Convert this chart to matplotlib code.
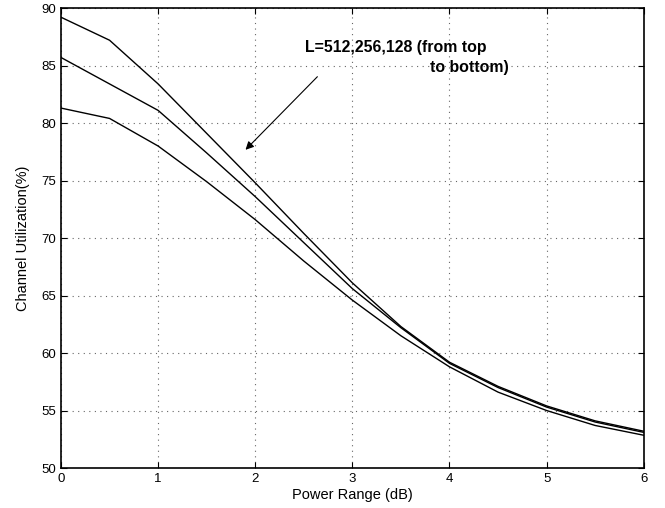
import matplotlib
matplotlib.use("Agg")
import matplotlib.pyplot as plt

plt.rcParams['font.family'] = ['Liberation Sans', 'DejaVu Sans']

# Power range (dB)
power = [0, 0.5, 1, 1.5, 2, 2.5, 3, 3.5, 4, 4.5, 5, 5.5, 6]

# Channel utilization (%) for L = 512, 256, 128
util_512 = [89.2, 87.2, 83.4, 79.1, 74.8, 70.4, 66.1, 62.3, 59.2, 57.1, 55.4, 54.1, 53.2]
util_256 = [85.7, 83.4, 81.1, 77.4, 73.6, 69.6, 65.6, 62.2, 59.1, 57.0, 55.3, 54.0, 53.1]
util_128 = [81.3, 80.4, 78.0, 74.9, 71.6, 68.0, 64.6, 61.5, 58.8, 56.6, 55.0, 53.7, 52.85]

fig = plt.figure(figsize=(6.65, 5.08), dpi=100)
ax = fig.add_axes([0.0917, 0.0787, 0.8763, 0.9055])

for series in (util_512, util_256, util_128):
    ax.plot(power, series, color='black', linewidth=1.0)

ax.set_xlim(0, 6)
ax.set_ylim(50, 90)
ax.set_xticks(range(0, 7))
ax.set_yticks(range(50, 91, 5))
ax.tick_params(direction='in', top=True, right=True, labelsize=9.5, length=4)
ax.grid(True, linestyle=(0, (1, 4)), color='#666666', linewidth=0.8)
for s in ax.spines.values():
    s.set_linewidth(1.2)

ax.set_xlabel("Power Range (dB)", fontsize=10.5, labelpad=2)
ax.set_ylabel("Channel Utilization(%)", fontsize=10.5, labelpad=8)

# annotation arrow and label
ax.annotate("", xy=(1.88, 77.5), xytext=(2.66, 84.2),
            arrowprops=dict(arrowstyle='-|>', color='black', lw=0.8,
                            mutation_scale=12))
ax.text(2.51, 86.6, "L=512,256,128 (from top", fontsize=11.4, fontweight='bold',
        ha='left', va='center')
ax.text(4.61, 84.8, "to bottom)", fontsize=11.4, fontweight='bold',
        ha='right', va='center')

fig.savefig("out.png", dpi=100)
plt.close(fig)
